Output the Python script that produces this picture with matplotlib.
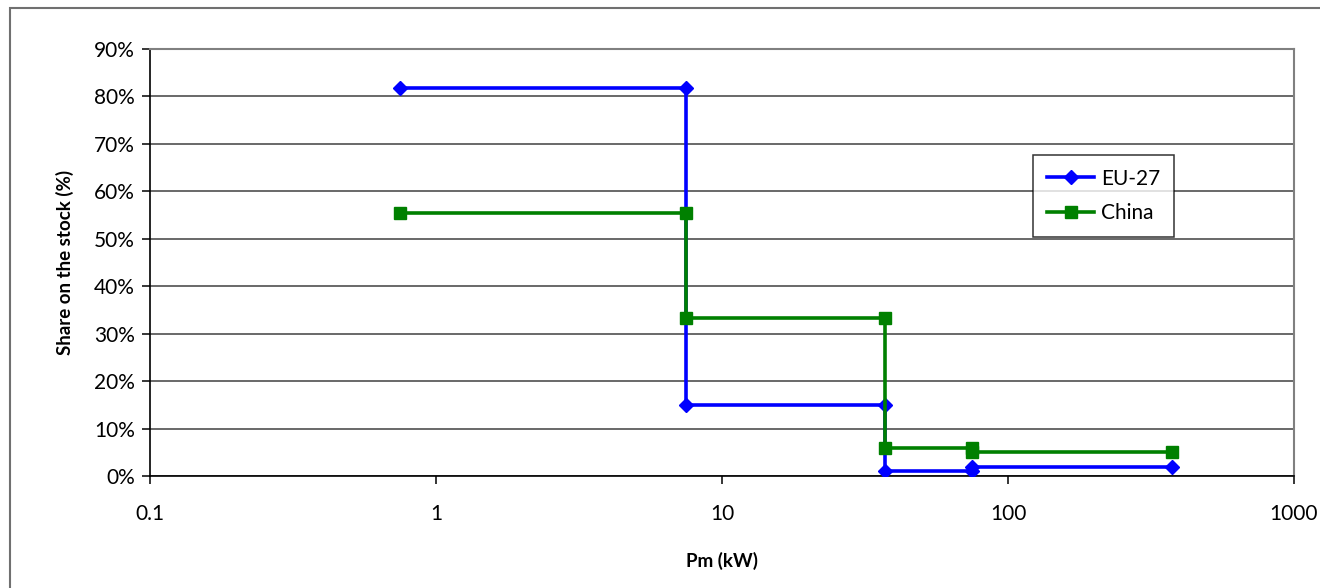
import matplotlib.pyplot as plt
from matplotlib.patches import Rectangle
from matplotlib.ticker import FixedLocator, FixedFormatter, NullLocator

plt.rcParams['font.family'] = ['Lato', 'DejaVu Sans']

# Datos (potencia en kW, cuota en %)
eu_x = [0.75, 7.5, 7.5, 37, 37, 75, 75, 375]
eu_y = [81.8, 81.8, 14.9, 14.9, 1.1, 1.1, 1.9, 1.9]
china_x = [0.75, 7.5, 7.5, 37, 37, 75, 75, 375]
china_y = [55.4, 55.4, 33.4, 33.4, 6.0, 6.0, 5.0, 5.0]

x_ticks = [0.1, 1, 10, 100, 1000]
x_labels = ["0.1", "1", "10", "100", "1000"]
y_ticks = [0, 10, 20, 30, 40, 50, 60, 70, 80, 90]

fig = plt.figure(figsize=(13.2, 5.88), dpi=100)
fig.patches.append(Rectangle((10 / 1320, -0.1), 1.2, 1 - 8 / 588 + 0.1,
                             transform=fig.transFigure, fill=False,
                             edgecolor="#707070", linewidth=1.5))
ax = fig.add_axes([150 / 1320, 1 - 476 / 588, (1294 - 150) / 1320, (476 - 49) / 588])

ax.plot(eu_x, eu_y, color="#0000FF", linewidth=2.6, marker="D", markersize=7,
        label="EU-27", zorder=3)
ax.plot(china_x, china_y, color="#008000", linewidth=2.6, marker="s", markersize=8.5,
        label="China", zorder=3)

ax.set_xscale("log")
ax.set_xlim(0.1, 1000)
ax.set_ylim(0, 90)
ax.xaxis.set_major_locator(FixedLocator(x_ticks))
ax.xaxis.set_major_formatter(FixedFormatter(x_labels))
ax.xaxis.set_minor_locator(NullLocator())
ax.set_yticks(y_ticks)
ax.set_yticklabels([f"{v}%" for v in y_ticks])

ax.grid(axis="y", color="#404040", linewidth=1.1)
ax.set_axisbelow(True)
for s in ["top", "right"]:
    ax.spines[s].set_color("#808080")
    ax.spines[s].set_linewidth(1.5)
for s in ["left", "bottom"]:
    ax.spines[s].set_color("#000000")
    ax.spines[s].set_linewidth(1.2)

ax.tick_params(axis="both", labelsize=15, length=6, width=1.1, color="#000000",
               labelcolor="#000000")
ax.tick_params(axis="x", pad=14)
ax.tick_params(axis="y", pad=5)

ax.set_xlabel("Pm (kW)", fontsize=13.5, fontweight="bold", labelpad=20)
ax.set_ylabel("Share on the stock (%)", fontsize=13.5, fontweight="bold", labelpad=14)

leg = ax.legend(loc="upper left", bbox_to_anchor=((1033 - 150) / 1144, (476 - 155) / 427),
                fontsize=15, frameon=True, fancybox=False, borderpad=0.65,
                handlelength=2.3, handletextpad=0.3, labelspacing=0.7, borderaxespad=0)
leg.get_frame().set_edgecolor("#000000")
leg.get_frame().set_linewidth(1.1)

plt.savefig("out.png", dpi=100)
